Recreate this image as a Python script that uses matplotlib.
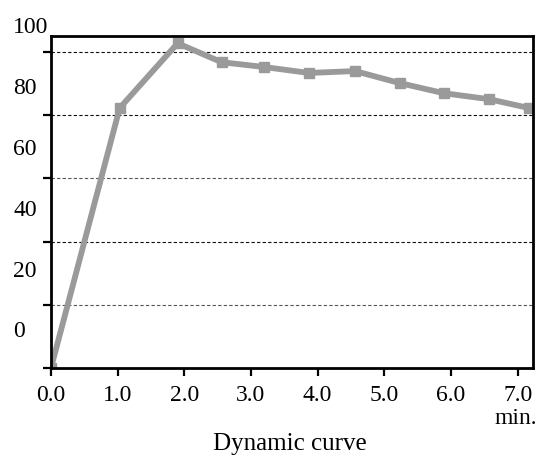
import matplotlib
matplotlib.use("Agg")
import matplotlib.pyplot as plt
import matplotlib.transforms as mtransforms

plt.rcParams['font.family'] = ['Liberation Serif', 'DejaVu Serif']

# values (x in min., y in axis units)
time_min = [0.0, 1.03, 1.90, 2.56, 3.19, 3.87, 4.56, 5.23, 5.89, 6.57, 7.17]
response = [0.0, 82.3, 102.8, 96.8, 95.3, 93.4, 94.0, 90.2, 87.0, 85.1, 82.3]

x_ticks = [0, 1, 2, 3, 4, 5, 6, 7]
x_tick_labels = ["0.0", "1.0", "2.0", "3.0", "4.0", "5.0", "6.0", "7.0"]
y_ticks = [0, 20, 40, 60, 80, 100]
y_tick_labels = ["0", "20", "40", "60", "80", "100"]

fig = plt.figure(figsize=(5.47, 4.57), dpi=100)
ax = fig.add_axes([51 / 547, 1 - 368 / 457, (533 - 51) / 547, (368 - 36) / 457])

ax.set_xlim(0, 7.23)
ax.set_ylim(0, 105.1)

# dashed grid lines
for yv in y_ticks[1:]:
    shade = '#555555' if yv in (20, 60) else '#111111'
    ax.axhline(yv, color=shade, lw=0.8, ls=(0, (3, 2)), zorder=1)

ax.plot(time_min, response, color='#9a9a9a', lw=4.2, marker='s', ms=7.5,
        zorder=3)

for side in ['left', 'bottom', 'top', 'right']:
    ax.spines[side].set_linewidth(2)
    ax.spines[side].set_color('black')
    ax.spines[side].set_zorder(4)

ax.set_xticks(x_ticks)
ax.set_xticklabels(x_tick_labels, fontsize=17)
shift = mtransforms.ScaledTranslation(4 / 100, 0, fig.dpi_scale_trans)
for lab in ax.get_xticklabels():
    lab.set_transform(lab.get_transform() + shift)
ax.tick_params(axis='x', direction='out', length=6, width=1.6, pad=6.5)

ax.set_yticks(y_ticks)
ax.tick_params(axis='y', direction='out', length=6, width=1.6, labelleft=False)

# y labels sit above their ticks in the reference
blend = mtransforms.blended_transform_factory(fig.transFigure, ax.transData)
for yv, txt in zip(y_ticks, y_tick_labels):
    ax.text(13 / 547, yv * 0.965 + 11.4, txt, transform=blend, fontsize=17,
            ha='left', va='center', clip_on=False)

fig.text(537 / 547, 1 - 419 / 457, "min.", fontsize=17, ha='right', va='center')
fig.text(290 / 547, 1 - 444 / 457, "Dynamic curve", fontsize=18, ha='center', va='center')

fig.savefig("out.png", dpi=100)
